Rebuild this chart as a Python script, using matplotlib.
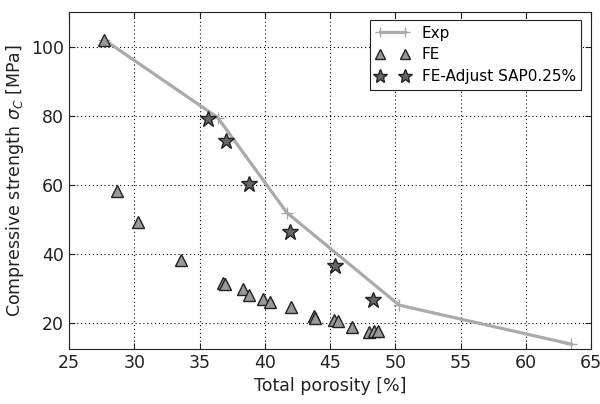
import matplotlib
matplotlib.use("Agg")
import matplotlib.pyplot as plt

exp_x = [27.7, 36.4, 41.7, 50.3, 63.5]
exp_y = [102.0, 79.5, 52.0, 25.3, 14.0]

fe_x = [27.7, 28.65, 30.26, 33.6, 36.8, 36.95, 38.3, 38.8, 39.9, 40.4, 42.0,
        43.8, 43.85, 45.3, 45.65, 46.7, 48.0, 48.35, 48.7]
fe_y = [101.8, 58.3, 49.3, 38.4, 31.6, 31.3, 29.9, 28.2, 27.0, 26.3, 24.8,
        22.3, 21.5, 20.9, 20.6, 18.9, 17.5, 17.7, 17.8]

adj_x = [35.67, 37.0, 38.8, 41.9, 45.4, 48.3]
adj_y = [79.0, 72.7, 60.3, 46.4, 36.5, 26.7]

xticks = [25, 30, 35, 40, 45, 50, 55, 60, 65]
yticks = [20, 40, 60, 80, 100]

plt.rcParams['font.family'] = ['DejaVu Sans']
fig = plt.figure(figsize=(6.0, 4.04), dpi=100)
ax = fig.add_axes([0.115, 0.136, 0.870, 0.834])

ax.plot(exp_x, exp_y, color='#aaaaaa', lw=2.3, marker='+', ms=8, mew=1,
        label='Exp', zorder=2)
ax.plot(fe_x, fe_y, ls='none', marker='^', ms=8, mfc='#999999', mec='#222222',
        mew=1.0, label='FE', zorder=3)
ax.plot(adj_x, adj_y, ls='none', marker='*', ms=12, mfc='#666666', mec='#222222',
        mew=1.0, label='FE-Adjust SAP0.25%', zorder=4)

ax.set_xlim(25, 65)
ax.set_ylim(12.6, 110)
ax.set_xticks(xticks)
ax.set_yticks(yticks)
ax.grid(True, color='black', ls=(0, (1, 2.5)), lw=0.8)
ax.tick_params(direction='in', top=True, right=True, labelsize=12.5,
               length=4, colors='#222222', labelcolor='#222222')
for s in ax.spines.values():
    s.set_color('#222222')
ax.set_xlabel('Total porosity [%]', fontsize=12.5, color='#222222')
ax.set_ylabel(r'Compressive strength $\sigma_C$ [MPa]', fontsize=12.5, color='#222222')

leg = ax.legend(loc='upper right', numpoints=2, fontsize=11, fancybox=False,
                framealpha=1, edgecolor='#222222', borderpad=0.35, handlelength=2.2,
                handletextpad=0.8, borderaxespad=0, labelspacing=0.45,
                markerscale=0.9, bbox_to_anchor=(0.981, 0.976))
leg.get_frame().set_linewidth(0.8)

fig.savefig('out.png', dpi=100)
